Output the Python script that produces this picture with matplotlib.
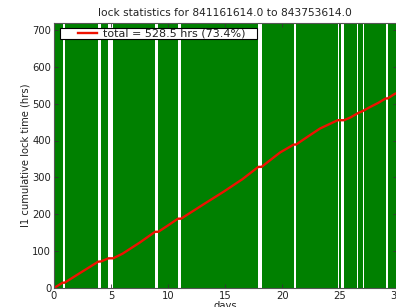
import matplotlib
matplotlib.use("Agg")
import matplotlib.pyplot as plt
from matplotlib.patches import Rectangle

# ---- data ----
t_start = 841161614.0
t_end = 843753614.0
total_days = 30.0

# unlocked intervals (days)
gap_start = [0.76, 3.88, 4.77, 8.86, 10.86, 14.76, 17.90, 21.00, 21.44, 24.85, 25.10, 26.58, 27.05, 29.05]
gap_end   = [0.93, 4.12, 5.18, 9.14, 11.13, 14.78, 18.18, 21.20, 21.46, 25.00, 25.40, 26.63, 27.18, 29.22]

# cumulative lock time curve
cum_days = [0.0, 0.76, 0.93, 2.4, 3.88, 4.12, 4.5, 4.77, 5.18, 6.0, 7.5, 8.86, 9.14, 10.0, 10.86, 11.13,
            13.0, 14.85, 16.5, 17.90, 18.18, 19.8, 21.00, 21.20, 22.3, 23.3, 24.85, 25.40, 26.0,
            26.55, 27.05, 27.7, 28.4, 29.05, 29.22, 29.8, 30.0]
cum_hrs  = [0.0, 14.4, 14.4, 43.0, 71.5, 72.0, 77.0, 80.5, 80.5, 93.0, 123.0, 152.5, 152.5, 170.0, 188.0, 188.0,
            225.0, 261.0, 295.0, 328.5, 328.5, 367.5, 389.0, 389.0, 412.0, 432.5, 455.0, 455.0, 463.0,
            473.0, 480.0, 491.0, 502.0, 514.0, 514.0, 525.5, 528.5]

label = "total = 528.5 hrs (73.4%)"
title = "lock statistics for %.1f to %.1f" % (t_start, t_end)

# ---- figure ----
W, H = 396, 307
fig = plt.figure(figsize=(W / 100, H / 100), dpi=100)
fig.patch.set_facecolor("white")
AX_L, AX_R, AX_T, AX_B = 54, 396.5, 22.5, 288
AW, AH = AX_R - AX_L, AX_B - AX_T
ax = fig.add_axes([AX_L / W, (H - AX_B) / H, AW / W, AH / H])

# locked segments = complement of gaps
lock_s = [0.0] + gap_end
lock_e = gap_start + [total_days]
for s, e in zip(lock_s, lock_e):
    ax.axvspan(s, e, color="#008000", lw=0, zorder=1)

ax.plot(cum_days, cum_hrs, color="#ee1100", lw=1.7, label=label, zorder=3)

ax.set_xlim(0, total_days)
ax.set_ylim(0, 720)
ax.set_xticks([0, 5, 10, 15, 20, 25, 30])
ax.set_yticks([0, 100, 200, 300, 400, 500, 600, 700])

fs = 7.2
ax.tick_params(direction="in", top=True, right=True, labelsize=fs, length=3,
               width=0.6, color="#333333", pad=2, labelcolor="#222222")
for sp in ax.spines.values():
    sp.set_color("#555555")
    sp.set_linewidth(0.8)
    sp.set_zorder(4)

ax.set_title(title, fontsize=7.7, pad=4.5, color="#222222")
ax.set_xlabel("days", fontsize=fs, labelpad=0, color="#222222")
ax.set_ylabel("l1 cumulative lock time (hrs)", fontsize=fs, labelpad=1.5, color="#222222")

# legend frame spans x 60..257 px, y 28..39 px
fx0 = (60 - AX_L) / AW
fw = 197 / AW
fy1 = (AX_B - 28) / AH
fh = 11 / AH
ax.add_patch(Rectangle((fx0, fy1 - fh), fw, fh, transform=ax.transAxes,
                       facecolor="white", edgecolor="black", lw=0.8, zorder=5))
leg = ax.legend(loc="center left", bbox_to_anchor=((77.5 - AX_L) / AW, fy1 - fh / 2),
                fontsize=8, frameon=False, borderpad=0.0, handlelength=1.75,
                handletextpad=0.55, borderaxespad=0)
leg.set_zorder(6)
for t in leg.get_texts():
    t.set_color("#222222")

fig.savefig("out.png", dpi=100, facecolor="white")
